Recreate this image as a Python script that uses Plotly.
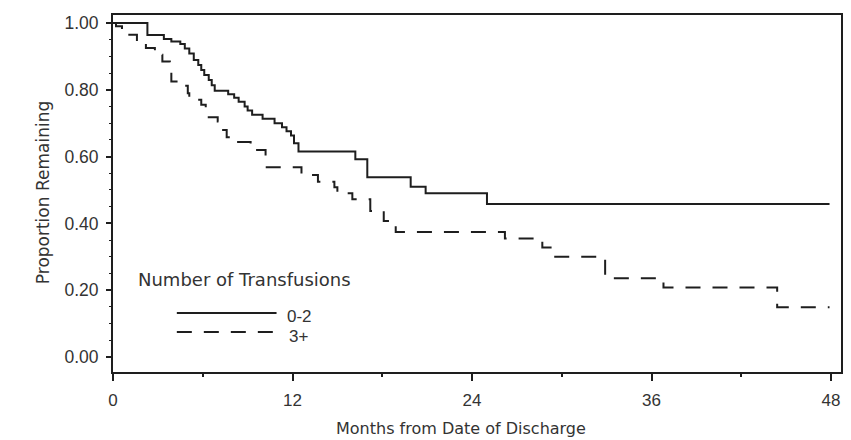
import plotly.graph_objects as go

# Kaplan-Meier style step data
months_low = [0, 2.3, 3.4, 3.9, 4.5, 4.8, 5.1, 5.4, 5.7, 5.9, 6.1, 6.4, 6.6, 6.8,
              7.7, 8.1, 8.4, 8.8, 9.0, 9.3, 10.0, 10.8, 11.3, 11.6, 11.9, 12.1,
              12.4, 16.2, 17.0, 19.9, 20.9, 25.0, 47.9]
surv_low = [1.0, 0.964, 0.952, 0.945, 0.937, 0.924, 0.909, 0.889, 0.874, 0.859,
            0.844, 0.829, 0.814, 0.797, 0.787, 0.776, 0.764, 0.750, 0.738, 0.725,
            0.713, 0.700, 0.688, 0.676, 0.663, 0.640, 0.615, 0.592, 0.538, 0.510,
            0.490, 0.458, 0.458]

months_high = [0, 0.2, 0.6, 1.0, 1.6, 2.2, 2.8, 3.3, 3.8, 3.9, 4.6, 5.0, 5.1,
               5.9, 6.2, 6.4, 7.0, 7.2, 7.6, 8.0, 9.2, 10.2, 12.6, 13.7, 14.8,
               15.0, 16.0, 17.2, 18.1, 18.9, 26.2, 28.7, 29.4, 32.9, 36.8, 44.4,
               47.9]
surv_high = [1.0, 0.99, 0.978, 0.965, 0.945, 0.925, 0.905, 0.885, 0.855, 0.825,
             0.812, 0.790, 0.770, 0.755, 0.735, 0.718, 0.705, 0.680, 0.658,
             0.644, 0.620, 0.568, 0.545, 0.525, 0.508, 0.490, 0.472, 0.437,
             0.407, 0.374, 0.355, 0.328, 0.300, 0.236, 0.208, 0.149, 0.149]

series_names = ["0-2", "3+"]
x_ticks = [0, 12, 24, 36, 48]
y_ticks = [0.0, 0.2, 0.4, 0.6, 0.8, 1.0]

LINE = "#1e1e1e"
TEXT = "#333333"
TICKFONT = "Liberation Sans, Arial, sans-serif"
TITLEFONT = "DejaVu Sans, Verdana, sans-serif"
DASH = "15px,12px"

fig = go.Figure()
fig.add_trace(go.Scatter(x=months_low, y=surv_low, mode="lines", line_shape="hv",
                         name=series_names[0], line=dict(color=LINE, width=2),
                         showlegend=False))
fig.add_trace(go.Scatter(x=months_high, y=surv_high, mode="lines", line_shape="hv",
                         name=series_names[1], line=dict(color=LINE, width=2, dash=DASH),
                         showlegend=False))

W, H = 851, 440
L, R, T, B = 113, 8, 15, 68

fig.update_layout(
    width=W, height=H,
    margin=dict(l=L, r=R, t=T, b=B),
    paper_bgcolor="white", plot_bgcolor="white",
    font=dict(family=TICKFONT, color=TEXT, size=15),
)
fig.update_xaxes(
    range=[0, 48.667], tickvals=x_ticks, ticktext=[str(v) for v in x_ticks],
    showgrid=False, zeroline=False, showline=True, linecolor=LINE, linewidth=2,
    mirror=True, ticks="outside", ticklen=7, tickwidth=2, tickcolor=LINE,
    ticklabelstandoff=5, tickfont=dict(family=TICKFONT, size=17, color=TEXT),
    minor=dict(dtick=6, tick0=0, ticks="outside", ticklen=3, tickwidth=2, tickcolor=LINE),
)
fig.update_yaxes(
    range=[-0.045, 1.024], tickvals=y_ticks, tickformat=".2f",
    showgrid=False, zeroline=False, showline=True, linecolor=LINE, linewidth=2,
    mirror=True, ticks="outside", ticklen=5, tickwidth=2, tickcolor=LINE,
    ticklabelstandoff=4, tickfont=dict(family=TICKFONT, size=17.5, color=TEXT),
    minor=dict(dtick=0.05, tick0=0, ticks="outside", ticklen=2, tickwidth=1, tickcolor=LINE),
)

def px(xp):
    return (xp - L) / (W - L - R)

def py(yp):
    return 1 - (yp - T) / (H - T - B)

# axis titles
fig.add_annotation(text="Months from Date of Discharge", xref="paper", yref="paper",
                   x=px(462), y=py(428), showarrow=False, xanchor="center", yanchor="middle",
                   font=dict(family=TITLEFONT, size=16, color=TEXT))
fig.add_annotation(text="Proportion Remaining", xref="paper", yref="paper",
                   x=px(43), y=py(193), showarrow=False, textangle=-90,
                   xanchor="center", yanchor="middle",
                   font=dict(family=TITLEFONT, size=17, color=TEXT))

# legend (drawn manually to match the reference layout)
fig.add_annotation(text="Number of Transfusions", xref="paper", yref="paper",
                   x=px(136), y=py(279), showarrow=False, xanchor="left", yanchor="middle",
                   font=dict(family=TITLEFONT, size=18, color=TEXT))
fig.add_shape(type="line", xref="paper", yref="paper", x0=px(177), x1=px(277),
              y0=py(313), y1=py(313), line=dict(color=LINE, width=2))
fig.add_shape(type="line", xref="paper", yref="paper", x0=px(177), x1=px(277),
              y0=py(332), y1=py(332), line=dict(color=LINE, width=2, dash=DASH))
fig.add_annotation(text=series_names[0], xref="paper", yref="paper",
                   x=px(285), y=py(316), showarrow=False, xanchor="left", yanchor="middle",
                   font=dict(family=TICKFONT, size=17, color=TEXT))
fig.add_annotation(text=series_names[1], xref="paper", yref="paper",
                   x=px(287), y=py(336), showarrow=False, xanchor="left", yanchor="middle",
                   font=dict(family=TICKFONT, size=17, color=TEXT))

fig.write_html("out.html")
